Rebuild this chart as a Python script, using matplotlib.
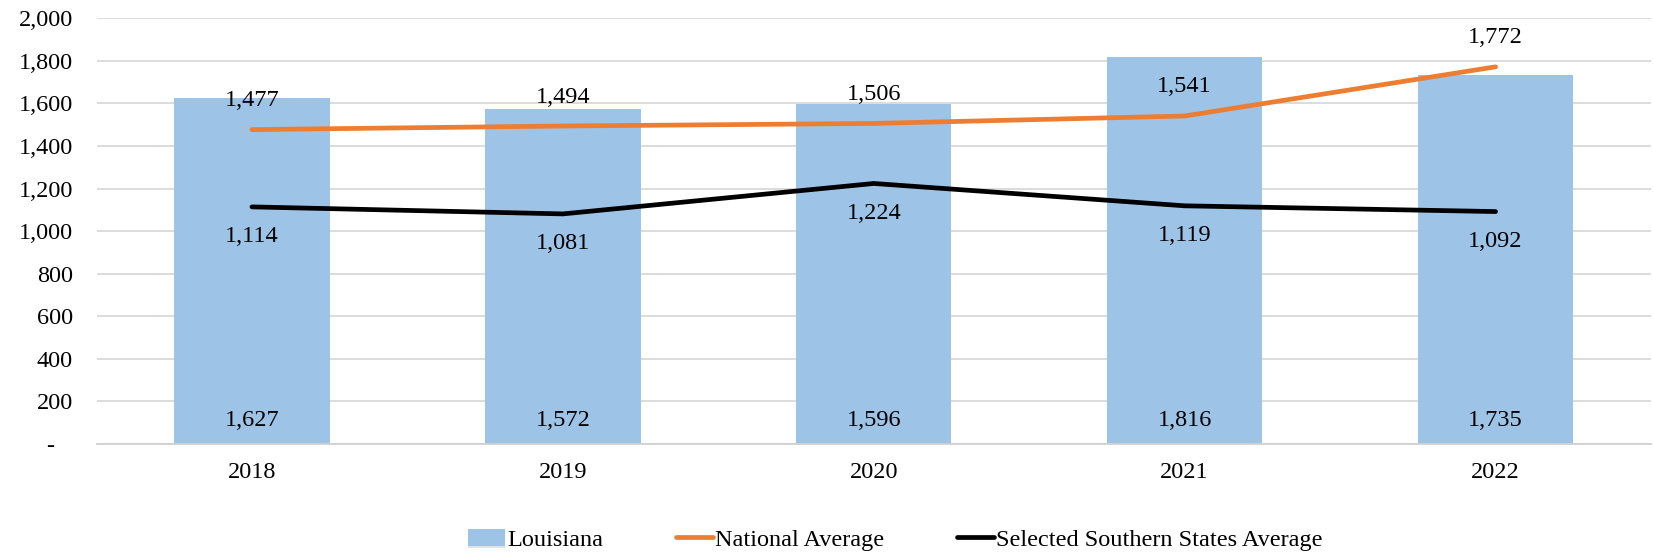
import matplotlib.pyplot as plt
import matplotlib.patheffects as pe
import numpy as np

years = ['2018', '2019', '2020', '2021', '2022']
louisiana = [1627, 1572, 1596, 1816, 1735]
national_avg = [1477, 1494, 1506, 1541, 1772]
southern_avg = [1114, 1081, 1224, 1119, 1092]

plt.rcParams['font.family'] = ['Liberation Serif', 'DejaVu Serif']

fig = plt.figure(figsize=(16.54, 5.53), dpi=100)
ax = fig.add_axes([96.5 / 1654, 1 - 444 / 553, 1554.5 / 1654, (444 - 18.3) / 553])

x = np.arange(len(years))
bars = ax.bar(x, louisiana, width=0.5, color='#9dc3e6', zorder=2, label='Louisiana')
for b in bars:
    b.set_path_effects([pe.SimplePatchShadow(offset=(0, -1.5), shadow_rgbFace='#8a8a8a', alpha=0.25),
                        pe.Normal()])

ln1, = ax.plot(x, national_avg, color='#ed7d31', lw=3.4, solid_capstyle='round', zorder=3,
               label='National Average')
ln2, = ax.plot(x, southern_avg, color='black', lw=3.4, solid_capstyle='round', zorder=3,
               label='Selected Southern States Average')

fs = 17.5
for i in x:
    ax.annotate(f'{louisiana[i]:,}', (i, 0), xytext=(0, 24), textcoords='offset pixels',
                ha='center', va='center', fontsize=fs, zorder=4)
    ax.annotate(f'{national_avg[i]:,}', (i, national_avg[i]), xytext=(0, 29),
                textcoords='offset pixels', ha='center', va='center', fontsize=fs, zorder=4)
    ax.annotate(f'{southern_avg[i]:,}', (i, southern_avg[i]), xytext=(0, -30),
                textcoords='offset pixels', ha='center', va='center', fontsize=fs, zorder=4)

ax.set_xlim(-0.5, 4.5)
ax.set_ylim(0, 2000)
ax.set_xticks(x, years)
yt = np.arange(0, 2001, 200)
ax.set_yticks(yt, ['-   '] + [f'{v:,}' for v in yt[1:]])
ax.tick_params(length=0, labelsize=fs)
ax.tick_params(axis='y', pad=17)
ax.tick_params(axis='x', pad=13)
ax.grid(axis='y', color='#d9d9d9', lw=1.3, zorder=0)
ax.set_axisbelow(True)
for s in ['top', 'right', 'left']:
    ax.spines[s].set_visible(False)
ax.spines['bottom'].set_color('#d0d0d0')
ax.spines['bottom'].set_linewidth(1.3)

ax.legend([bars, ln1, ln2], ['Louisiana', 'National Average', 'Selected Southern States Average'],
          loc='center', bbox_to_anchor=(0.514, -0.225), ncol=3, frameon=False, fontsize=fs,
          handlelength=1.5, handletextpad=0.1, columnspacing=3.0)

fig.savefig('out.png', dpi=100)
